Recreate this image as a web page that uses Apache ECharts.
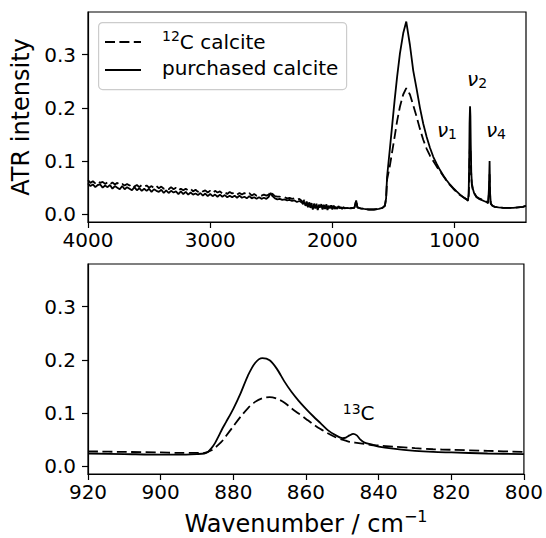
<!DOCTYPE html>
<html><head><meta charset="utf-8">
<script src="https://cdn.jsdelivr.net/npm/echarts@6/dist/echarts.min.js"></script>
<style>html,body{margin:0;padding:0;background:#fff}#c{width:546px;height:538px}</style>
</head><body><div id="c"></div>
<script>
// ---- data ----
const seriesNames = ['12C calcite', 'purchased calcite'];

// Top panel: full spectrum, wavenumber (cm-1)
const wnTop = [4000,3980,3960,3940,3920,3900,3880,3860,3840,3820,3800,3780,3760,3740,3720,3700,3680,3660,3640,3620,3600,3580,3560,3540,3520,3500,3480,3460,3440,3420,3400,3380,3360,3340,3320,3300,3280,3260,3240,3220,3200,3180,3160,3140,3120,3100,3080,3060,3040,3020,3000,2980,2960,2940,2920,2900,2880,2860,2840,2820,2800,2780,2760,2740,2720,2700,2680,2660,2640,2620,2600,2580,2560,2540,
  2520,2505,2490,
  2470,2450,2430,2410,2390,2370,2350,2330,2310,2290,2270,
  2250,2240,2230,2220,2210,2200,2190,2180,2170,2160,2150,2140,2130,2120,2110,2100,2090,2080,2070,2060,2050,2040,2030,2020,2010,2000,1990,1980,1970,1960,1950,1940,1930,1920,1910,1900,
  1880,1850,1820,1805,1795,1770,1740,1700,1660,1620,1590,1570,1560,1552,1530,1510,1490,1470,1447,1420,1395,1365,1338,1310,1283,1256,1228,1201,1174,1147,1119,1092,1065,1038,1010,983,955,928,901,890,884,880,877,873,870,867,863,858,850,840,820,800,780,760,740,725,718,713,709,703,690,670,640,600,560,520,480,440,415];
const solidTop = [0.058,0.053,0.056,0.051,0.055,0.056,0.050,0.054,0.051,0.055,0.048,0.053,0.050,0.047,0.053,0.047,0.051,0.048,0.045,0.051,0.045,0.049,0.044,0.048,0.044,0.048,0.042,0.047,0.044,0.042,0.046,0.040,0.045,0.040,0.044,0.041,0.043,0.038,0.043,0.038,0.042,0.037,0.041,0.037,0.039,0.036,0.040,0.035,0.039,0.034,0.038,0.034,0.037,0.033,0.037,0.033,0.036,0.032,0.035,0.032,0.035,0.031,0.035,0.031,0.033,0.030,0.034,0.030,0.032,0.029,0.032,0.029,0.031,0.029,
  0.033,0.040,0.034,
  0.030,0.028,0.029,0.027,0.028,0.026,0.027,0.025,0.026,0.023,0.025,
  0.022,0.019,0.024,0.016,0.021,0.013,0.022,0.012,0.019,0.009,0.018,0.011,0.020,0.008,0.016,0.013,0.019,0.009,0.017,0.010,0.018,0.008,0.015,0.011,0.017,0.009,0.016,0.010,0.014,0.010,0.015,0.011,0.013,0.010,0.013,0.011,
  0.012,0.011,0.012,0.026,0.013,0.011,0.010,0.009,0.009,0.010,0.012,0.016,0.030,0.071,0.121,0.168,0.215,0.258,0.302,0.340,0.362,0.318,0.270,0.235,0.200,0.170,0.145,0.125,0.108,0.095,0.083,0.073,0.064,0.056,0.049,0.043,0.037,0.032,0.028,0.025,0.040,0.100,0.170,0.203,0.185,0.130,0.080,0.058,0.048,0.040,0.032,0.029,0.027,0.025,0.023,0.021,0.050,0.100,0.040,0.020,0.016,0.014,0.013,0.012,0.012,0.012,0.013,0.014,0.016];
const dashedTop = [0.064,0.059,0.062,0.058,0.062,0.059,0.061,0.057,0.060,0.056,0.060,0.056,0.059,0.055,0.057,0.054,0.057,0.054,0.057,0.052,0.055,0.051,0.055,0.052,0.054,0.050,0.053,0.049,0.053,0.049,0.052,0.048,0.050,0.047,0.051,0.047,0.050,0.045,0.048,0.045,0.048,0.045,0.048,0.043,0.046,0.042,0.046,0.043,0.045,0.041,0.044,0.040,0.044,0.041,0.043,0.039,0.042,0.038,0.042,0.039,0.041,0.037,0.040,0.037,0.040,0.037,0.040,0.035,0.038,0.035,0.037,0.035,0.037,0.035,
  0.037,0.043,0.038,
  0.034,0.033,0.033,0.031,0.032,0.030,0.031,0.029,0.030,0.027,0.029,
  0.025,0.022,0.027,0.018,0.024,0.015,0.024,0.014,0.021,0.012,0.020,0.013,0.021,0.010,0.018,0.015,0.020,0.011,0.018,0.012,0.019,0.010,0.016,0.013,0.018,0.011,0.016,0.012,0.015,0.011,0.015,0.012,0.013,0.011,0.013,0.012,
  0.012,0.012,0.012,0.026,0.013,0.011,0.010,0.009,0.009,0.010,0.012,0.016,0.030,0.065,0.090,0.118,0.146,0.175,0.202,0.225,0.237,0.225,0.205,0.183,0.160,0.140,0.123,0.110,0.100,0.090,0.081,0.072,0.063,0.055,0.048,0.042,0.036,0.032,0.028,0.026,0.035,0.070,0.110,0.130,0.125,0.100,0.070,0.055,0.046,0.040,0.033,0.030,0.028,0.026,0.024,0.022,0.040,0.075,0.035,0.020,0.016,0.014,0.013,0.012,0.012,0.012,0.013,0.014,0.016];

// Bottom panel: nu2 region
const wnBot = [920,910,900,895,890,888,887,886,885,884,883,882,880,878,876,874,872,870,868,866,864,862,860,858,856,854,852,850,849,848,847,846,845,844,842,840,836,830,825,820,810,800];
const solidBot = [0.024,0.023,0.022,0.022,0.023,0.024,0.027,0.034,0.044,0.057,0.071,0.083,0.108,0.137,0.170,0.194,0.203,0.199,0.183,0.160,0.140,0.123,0.108,0.094,0.081,0.068,0.059,0.053,0.054,0.058,0.061,0.058,0.050,0.045,0.041,0.037,0.033,0.029,0.027,0.026,0.024,0.023];
const dashedBot = [0.028,0.027,0.026,0.025,0.025,0.025,0.027,0.030,0.035,0.041,0.048,0.057,0.075,0.093,0.109,0.121,0.128,0.130,0.127,0.120,0.109,0.099,0.089,0.079,0.070,0.062,0.055,0.050,0.048,0.046,0.045,0.044,0.043,0.042,0.040,0.039,0.037,0.034,0.032,0.031,0.029,0.027];

const topXTicks = [1000, 2000, 3000, 4000];
const yTicks = [0, 0.1, 0.2, 0.3];
const annotTop = [
  {text: '{nu|ν}{sub|1}', wn: 1062, v: 0.158},
  {text: '{nu|ν}{sub|2}', wn: 815, v: 0.254},
  {text: '{nu|ν}{sub|4}', wn: 661, v: 0.158}
];
const annotBot = [{text: '{sup|13}{c|C}', wn: 845.5, v: 0.100}];

// ---- chart ----
const FONT = 'DejaVu Sans';
const chart = echarts.init(document.getElementById('c'), null, {renderer: 'svg'});
const pairs = (xs, ys) => xs.map((x, i) => [x, ys[i]]);
const DASH = [10, 4.4];
const TICK_FS = 20;

function xAxisBase(grid) {
  return {
    type: 'value', gridIndex: grid, inverse: true,
    axisLine: {show: true, onZero: false, lineStyle: {color: '#000', width: 1.2}},
    axisTick: {show: true, length: 6, lineStyle: {color: '#000', width: 1.2}},
    axisLabel: {color: '#000', fontFamily: FONT, fontSize: TICK_FS, margin: 8, formatter: v => String(v)},
    splitLine: {show: false}
  };
}
function yAxisBase(grid) {
  return {
    type: 'value', gridIndex: grid, min: -0.0145, max: 0.38,
    axisLine: {show: true, onZero: false, lineStyle: {color: '#000', width: 1.2}},
    axisTick: {show: true, length: 6, customValues: yTicks, lineStyle: {color: '#000', width: 1.2}},
    axisLabel: {color: '#000', fontFamily: FONT, fontSize: TICK_FS, margin: 12, customValues: yTicks,
      formatter: v => v.toFixed(1)},
    splitLine: {show: false}
  };
}
const markLabelRich = {
  nu: {fontFamily: FONT, fontSize: 20, fontStyle: 'italic', color: '#000', verticalAlign: 'middle', lineHeight: 22},
  sub: {fontFamily: FONT, fontSize: 14, color: '#000', verticalAlign: 'bottom', lineHeight: 14, padding: [8, 0, 0, 0]},
  sup: {fontFamily: FONT, fontSize: 14, color: '#000', verticalAlign: 'top', lineHeight: 14, padding: [0, 0, 8, 0]},
  c: {fontFamily: FONT, fontSize: 20, color: '#000', verticalAlign: 'middle', lineHeight: 22}
};
function marks(list) {
  return {
    symbol: 'circle', symbolSize: 0, silent: true,
    itemStyle: {color: 'rgba(0,0,0,0)'},
    label: {show: true, position: 'inside', rich: markLabelRich},
    data: list.map(a => ({coord: [a.wn, a.v], value: 0, label: {formatter: a.text}}))
  };
}

const xTop = xAxisBase(0);
Object.assign(xTop, {min: 415, max: 4000});
xTop.axisTick.customValues = topXTicks;
xTop.axisLabel.customValues = topXTicks;

const xBot = xAxisBase(1);
Object.assign(xBot, {min: 800, max: 920, interval: 20,
  name: '{t|Wavenumber / cm}{s|−1}', nameLocation: 'middle', nameGap: 34,
  nameTextStyle: {rich: {
    t: {fontFamily: FONT, fontSize: 24, color: '#000', verticalAlign: 'bottom', lineHeight: 28},
    s: {fontFamily: FONT, fontSize: 16, color: '#000', verticalAlign: 'top', lineHeight: 16, padding: [0, 0, 10, 0]}
  }}});

const yTop = yAxisBase(0);
Object.assign(yTop, {name: 'ATR intensity', nameLocation: 'middle', nameGap: 54,
  nameTextStyle: {fontFamily: FONT, fontSize: 24, color: '#000'}});
const yBot = yAxisBase(1);

const option = {
  animation: false,
  backgroundColor: '#fff',
  grid: [
    {left: 88, top: 12, width: 438, height: 210, show: true, borderColor: '#000', borderWidth: 1.2, backgroundColor: 'transparent'},
    {left: 88, top: 264, width: 438, height: 210, show: true, borderColor: '#000', borderWidth: 1.2, backgroundColor: 'transparent'}
  ],
  xAxis: [xTop, xBot],
  yAxis: [yTop, yBot],
  series: [
    {name: seriesNames[0], type: 'line', xAxisIndex: 0, yAxisIndex: 0, data: pairs(wnTop, dashedTop),
      showSymbol: false, symbol: 'none', lineStyle: {color: '#000', width: 1.8, type: DASH}, z: 2},
    {name: seriesNames[1], type: 'line', xAxisIndex: 0, yAxisIndex: 0, data: pairs(wnTop, solidTop),
      showSymbol: false, symbol: 'none', lineStyle: {color: '#000', width: 1.8}, z: 3, markPoint: marks(annotTop)},
    {name: seriesNames[0], type: 'line', xAxisIndex: 1, yAxisIndex: 1, data: pairs(wnBot, dashedBot),
      showSymbol: false, symbol: 'none', smooth: 0.3, lineStyle: {color: '#000', width: 1.8, type: DASH}, z: 2},
    {name: seriesNames[1], type: 'line', xAxisIndex: 1, yAxisIndex: 1, data: pairs(wnBot, solidBot),
      showSymbol: false, symbol: 'none', smooth: 0.3, lineStyle: {color: '#000', width: 1.8}, z: 3, markPoint: marks(annotBot)}
  ],
  graphic: [
    {type: 'rect', left: 98, top: 22, shape: {width: 248, height: 67, r: 4}, z: 10,
      style: {fill: 'rgba(255,255,255,0.8)', stroke: '#cccccc', lineWidth: 1.2}},
    {type: 'line', z: 11, shape: {x1: 105, y1: 42, x2: 141, y2: 42}, style: {stroke: '#000', lineWidth: 1.8, lineDash: DASH}},
    {type: 'line', z: 11, shape: {x1: 105, y1: 70, x2: 141, y2: 70}, style: {stroke: '#000', lineWidth: 1.8}},
    {type: 'text', z: 11, left: 162, top: 29, style: {text: '{sup|12}{t|C calcite}', rich: {
      sup: {fontFamily: FONT, fontSize: 14, fill: '#000', verticalAlign: 'top', lineHeight: 14, padding: [0, 0, 8, 0]},
      t: {fontFamily: FONT, fontSize: 20, fill: '#000', verticalAlign: 'bottom', lineHeight: 23}}}},
    {type: 'text', z: 11, left: 162, top: 58, style: {text: 'purchased calcite', fontFamily: FONT, fontSize: 20, fill: '#000'}}
  ]
};
chart.setOption(option);
</script></body></html>
